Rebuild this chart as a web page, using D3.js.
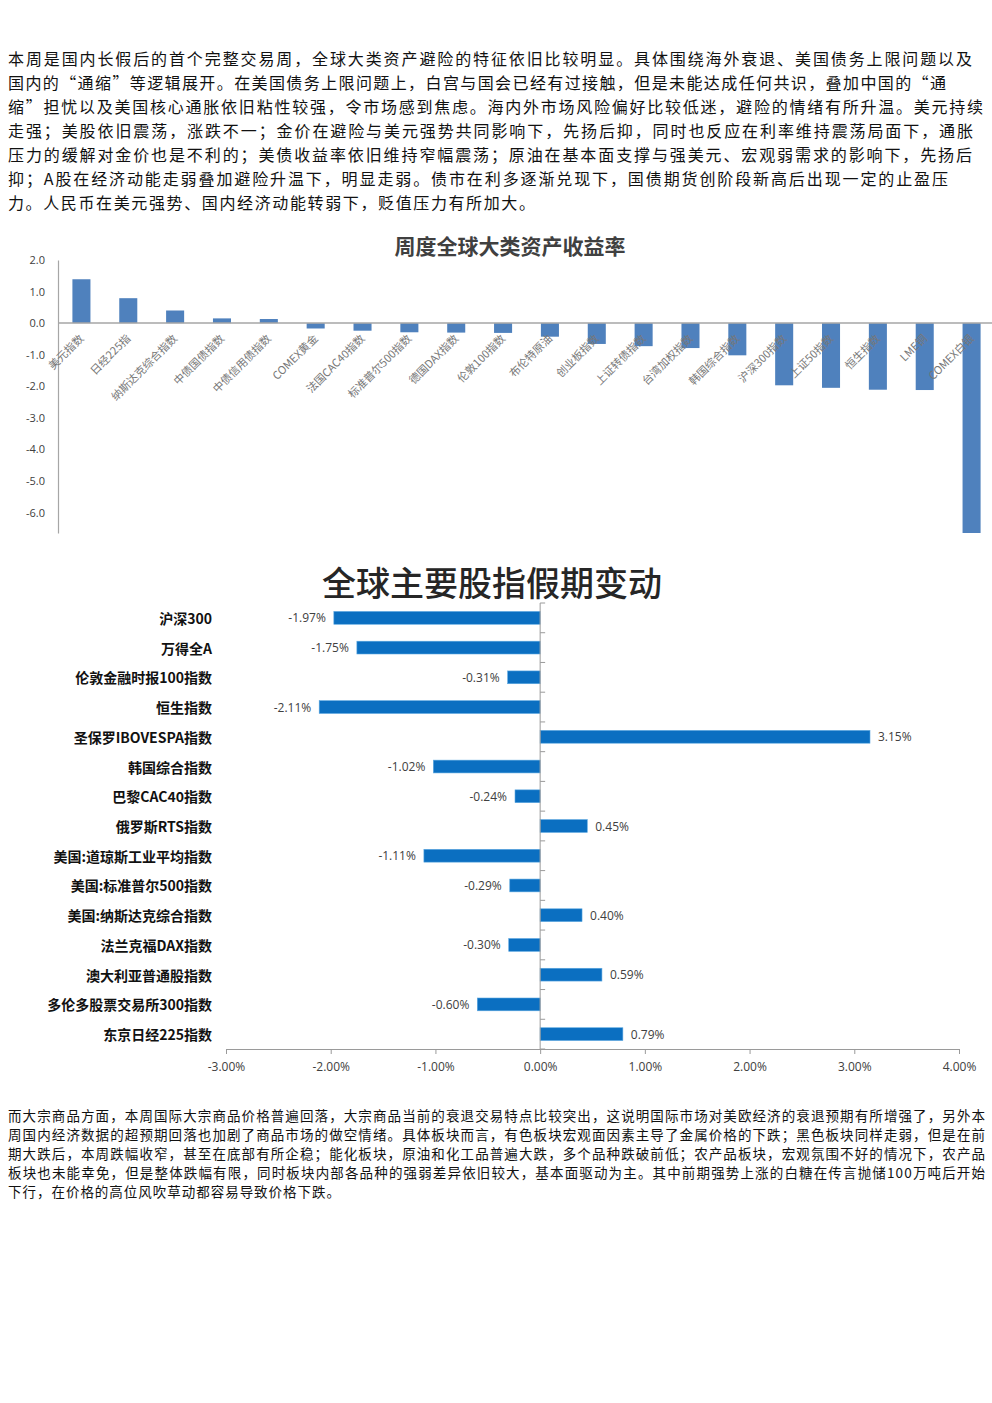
<!DOCTYPE html>
<html><head><meta charset="utf-8">
<script src="https://cdn.jsdelivr.net/npm/d3@7"></script>
<style>
html,body{margin:0;padding:0;background:#fff;}
svg{display:block;}
</style></head>
<body>
<script>
// ---------- text content ----------
const para1Lines = [
  "本周是国内长假后的首个完整交易周，全球大类资产避险的特征依旧比较明显。具体围绕海外衰退、美国债务上限问题以及",
  "国内的“通缩”等逻辑展开。在美国债务上限问题上，白宫与国会已经有过接触，但是未能达成任何共识，叠加中国的“通",
  "缩”担忧以及美国核心通胀依旧粘性较强，令市场感到焦虑。海内外市场风险偏好比较低迷，避险的情绪有所升温。美元持续",
  "走强；美股依旧震荡，涨跌不一；金价在避险与美元强势共同影响下，先扬后抑，同时也反应在利率维持震荡局面下，通胀",
  "压力的缓解对金价也是不利的；美债收益率依旧维持窄幅震荡；原油在基本面支撑与强美元、宏观弱需求的影响下，先扬后",
  "抑；A股在经济动能走弱叠加避险升温下，明显走弱。债市在利多逐渐兑现下，国债期货创阶段新高后出现一定的止盈压",
  "力。人民币在美元强势、国内经济动能转弱下，贬值压力有所加大。"
];
const para2Lines = [
  "而大宗商品方面，本周国际大宗商品价格普遍回落，大宗商品当前的衰退交易特点比较突出，这说明国际市场对美欧经济的衰退预期有所增强了，另外本",
  "周国内经济数据的超预期回落也加剧了商品市场的做空情绪。具体板块而言，有色板块宏观面因素主导了金属价格的下跌；黑色板块同样走弱，但是在前",
  "期大跌后，本周跌幅收窄，甚至在底部有所企稳；能化板块，原油和化工品普遍大跌，多个品种跌破前低；农产品板块，宏观氛围不好的情况下，农产品",
  "板块也未能幸免，但是整体跌幅有限，同时板块内部各品种的强弱差异依旧较大，基本面驱动为主。其中前期强势上涨的白糖在传言抛储100万吨后开始",
  "下行，在价格的高位风吹草动都容易导致价格下跌。"
];

// ---------- chart 1 data ----------
const chart1Title = "周度全球大类资产收益率";
const assetNames = ["美元指数","日经225指","纳斯达克综合指数","中债国债指数","中债信用债指数","COMEX黄金","法国CAC40指数","标准普尔500指数","德国DAX指数","伦敦100指数","布伦特原油","创业板指数","上证转债指数","台湾加权指数","韩国综合指数","沪深300指数","上证50指数","恒生指数","LME铜","COMEX白银"];
const assetReturns = [1.39, 0.79, 0.40, 0.15, 0.13, -0.17, -0.24, -0.29, -0.30, -0.31, -0.43, -0.66, -0.73, -0.79, -1.02, -1.97, -2.05, -2.11, -2.12, -6.65];
const chart1Ticks = [2, 1, 0, -1, -2, -3, -4, -5, -6];

// ---------- chart 2 data ----------
const chart2Title = "全球主要股指假期变动";
const indexNames = ["沪深300","万得全A","伦敦金融时报100指数","恒生指数","圣保罗IBOVESPA指数","韩国综合指数","巴黎CAC40指数","俄罗斯RTS指数","美国:道琼斯工业平均指数","美国:标准普尔500指数","美国:纳斯达克综合指数","法兰克福DAX指数","澳大利亚普通股指数","多伦多股票交易所300指数","东京日经225指数"];
const indexChanges = [-1.97, -1.75, -0.31, -2.11, 3.15, -1.02, -0.24, 0.45, -1.11, -0.29, 0.40, -0.30, 0.59, -0.60, 0.79];
const chart2Ticks = [-3, -2, -1, 0, 1, 2, 3, 4];

// ---------- layout ----------
const W = 992, H = 1403;
const CJK = "'Noto Sans CJK SC','Noto Sans',sans-serif";
const LAT = "'Open Sans','Liberation Sans',sans-serif";
const svg = d3.select("body").append("svg").attr("width", W).attr("height", H);
svg.append("rect").attr("width", W).attr("height", H).attr("fill", "#fff");

// paragraph 1
const p1Right = [972, 946, 983, 973, 972, 948, 535];
svg.append("g").selectAll("text").data(para1Lines).join("text")
  .attr("x", 8).attr("y", (d, i) => 58 + i * 24)
  .attr("dominant-baseline", "central")
  .attr("font-family", CJK).attr("font-size", 16).attr("fill", "#111")
  .attr("textLength", (d, i) => p1Right[i] - 8).attr("lengthAdjust", "spacing")
  .text(d => d);

// paragraph 2
const p2Right = [985, 985, 985, 985, 340];
svg.append("g").selectAll("text").data(para2Lines).join("text")
  .attr("x", 8).attr("y", (d, i) => 1115 + i * 19)
  .attr("dominant-baseline", "central")
  .attr("font-family", CJK).attr("font-size", 13.5).attr("fill", "#111")
  .attr("textLength", (d, i) => p2Right[i] - 8).attr("lengthAdjust", "spacing")
  .text(d => d);

// ---------- chart 1 ----------
const g1 = svg.append("g");
g1.append("text").attr("x", 510).attr("y", 245).attr("text-anchor", "middle")
  .attr("dominant-baseline", "central").attr("font-family", CJK).attr("font-weight", 700)
  .attr("font-size", 21).attr("fill", "#404040").text(chart1Title);

const x1 = d3.scaleBand().domain(assetNames).range([58, 995]).paddingInner(0.615).paddingOuter(0.3075);
const y1 = d3.scaleLinear().domain([-6.65, 2]).range([533, 260]);

const yAxis1 = d3.axisLeft(y1).tickValues(chart1Ticks).tickSizeInner(0).tickSizeOuter(0)
  .tickPadding(13).tickFormat(d => d.toFixed(1));
const ya = g1.append("g").attr("transform", "translate(58,0)").call(yAxis1);
ya.select(".domain").attr("stroke", "#a6a6a6").attr("stroke-width", 1.2);
ya.selectAll("text").attr("font-family", LAT).attr("font-size", 11).attr("fill", "#404040");

g1.append("g").selectAll("rect").data(assetNames).join("rect")
  .attr("x", d => x1(d)).attr("width", x1.bandwidth())
  .attr("y", (d, i) => y1(Math.max(0, assetReturns[i])))
  .attr("height", (d, i) => Math.abs(y1(assetReturns[i]) - y1(0)))
  .attr("fill", "#4F81BD");

g1.append("line").attr("x1", 58).attr("x2", W).attr("y1", y1(0)).attr("y2", y1(0))
  .attr("stroke", "#a6a6a6").attr("stroke-width", 1.5);

g1.append("g").selectAll("text").data(assetNames).join("text")
  .attr("transform", d => `translate(${x1(d) + x1.bandwidth() / 2 + 3},${y1(0) + 16}) rotate(-45)`)
  .attr("text-anchor", "end")
  .attr("font-family", CJK).attr("font-size", 11).attr("fill", "#777")
  .text(d => d);

// ---------- chart 2 ----------
const g2 = svg.append("g");
g2.append("text").attr("x", 492).attr("y", 581).attr("text-anchor", "middle")
  .attr("dominant-baseline", "central").attr("font-family", CJK).attr("font-weight", 500)
  .attr("font-size", 34).attr("fill", "#262626").text(chart2Title);

const x2 = d3.scaleLinear().domain([-3, 4]).range([226, 959]);
const y2 = d3.scaleBand().domain(indexNames).range([603, 1049]).paddingInner(0.57).paddingOuter(0.285);

// bars
g2.append("g").selectAll("rect").data(indexNames).join("rect")
  .attr("x", (d, i) => x2(Math.min(0, indexChanges[i])))
  .attr("width", (d, i) => Math.abs(x2(indexChanges[i]) - x2(0)))
  .attr("y", d => y2(d)).attr("height", y2.bandwidth())
  .attr("fill", "#0B6FC1").attr("stroke", "#5aa6e0").attr("stroke-width", 0.6);

// value labels
g2.append("g").selectAll("text").data(indexNames).join("text")
  .attr("x", (d, i) => x2(indexChanges[i]) + (indexChanges[i] < 0 ? -8 : 8))
  .attr("y", d => y2(d) + y2.bandwidth() / 2)
  .attr("text-anchor", (d, i) => indexChanges[i] < 0 ? "end" : "start")
  .attr("dominant-baseline", "central")
  .attr("font-family", LAT).attr("font-size", 12).attr("fill", "#404040")
  .text((d, i) => indexChanges[i].toFixed(2) + "%");

// category labels
g2.append("g").selectAll("text").data(indexNames).join("text")
  .attr("x", 212).attr("y", d => y2(d) + y2.bandwidth() / 2)
  .attr("text-anchor", "end").attr("dominant-baseline", "central")
  .attr("font-family", CJK).attr("font-weight", 700).attr("font-size", 14).attr("fill", "#111")
  .text(d => d);

// vertical zero axis with ticks at band boundaries
const step2 = y2.step();
const y2r = y2.range();
g2.append("line").attr("x1", x2(0)).attr("x2", x2(0)).attr("y1", y2r[0]).attr("y2", y2r[1])
  .attr("stroke", "#9a9a9a").attr("stroke-width", 1);
g2.append("g").selectAll("line").data(d3.range(indexNames.length + 1)).join("line")
  .attr("x1", x2(0)).attr("x2", x2(0) + 5)
  .attr("y1", i => y2r[0] + i * step2).attr("y2", i => y2r[0] + i * step2)
  .attr("stroke", "#9a9a9a").attr("stroke-width", 1);

// bottom axis
const xAxis2 = d3.axisBottom(x2).tickValues(chart2Ticks).tickSizeInner(5).tickSizeOuter(0)
  .tickPadding(8).tickFormat(d => d.toFixed(2) + "%");
const xa = g2.append("g").attr("transform", `translate(0,${y2r[1]})`).call(xAxis2);
xa.select(".domain").attr("stroke", "#9a9a9a");
xa.selectAll(".tick line").attr("stroke", "#9a9a9a");
xa.selectAll("text").attr("font-family", LAT).attr("font-size", 12).attr("fill", "#404040");
</script>
</body></html>
